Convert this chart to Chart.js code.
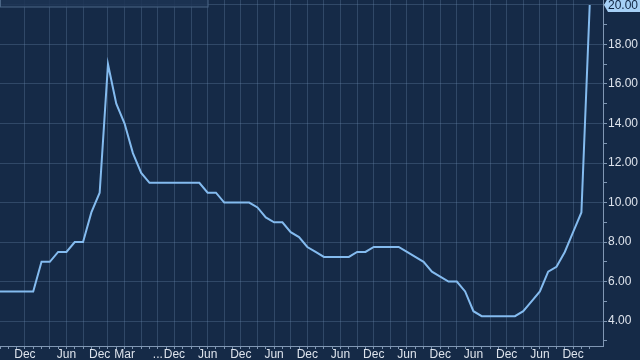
<!DOCTYPE html>
<html>
<head>
<meta charset="utf-8">
<script src="https://cdn.jsdelivr.net/npm/chart.js@4.4.1/dist/chart.umd.min.js"></script>
<style>
html, body { margin: 0; padding: 0; background: #152a47; }
#wrap { width: 640px; height: 360px; position: relative; }
</style>
</head>
<body>
<div id="wrap"><canvas id="rateChart"></canvas></div>
<script>
// one value per policy meeting, plotted evenly spaced like the terminal does
const keyRate = [5.5, 5.5, 5.5, 5.5, 5.5, 7, 7, 7.5, 7.5, 8, 8, 9.5, 10.5, 17, 15, 14, 12.5, 11.5,
    11, 11, 11, 11, 11, 11, 11, 10.5, 10.5, 10, 10, 10, 10, 9.75, 9.25, 9, 9, 8.5, 8.25, 7.75, 7.5,
    7.25, 7.25, 7.25, 7.25, 7.5, 7.5, 7.75, 7.75, 7.75, 7.75, 7.5, 7.25, 7, 6.5, 6.25, 6, 6, 5.5, 4.5,
    4.25, 4.25, 4.25, 4.25, 4.25, 4.5, 5, 5.5, 6.5, 6.75, 7.5, 8.5, 9.5, 20];

// which meeting gets a month label, and the label itself
const tickIdx  = [3, 8, 12, 15, 19, 21, 25, 29, 33, 37, 41, 45, 49, 53, 57, 61, 65, 69];
const tickText = ["Dec", "Jun", "Dec", "Mar", "...", "Dec", "Jun", "Dec", "Jun", "Dec", "Jun", "Dec", "Jun", "Dec", "Jun", "Dec", "Jun", "Dec"];
// meetings that carry a vertical grid line
const gridIdx = [3, 6, 8, 10, 13, 15, 17, 19, 21, 23, 25, 27, 29, 31, 33, 35, 37, 39, 41, 43, 45, 47, 49, 51, 53, 55, 57, 59, 61, 63, 65, 67, 69];

const yMin = 2.74, yMax = 20.25;

const gridColor = "rgba(120,150,185,0.28)";
const axisColor = "#8097b3";
const textColor = "#dde3ec";
const lineColor = "#84bbef";

Chart.defaults.font.family = "'Liberation Sans', Arial, sans-serif";
Chart.defaults.font.size = 12;

const legendStub = {
    id: "legendStub",
    beforeDatasetsDraw(chart) {
        const c = chart.ctx;
        c.save();
        c.fillStyle = "rgba(28,52,84,0.85)";
        c.strokeStyle = "#4a6585";
        c.lineWidth = 1;
        c.fillRect(0, -10, 208, 17);
        c.strokeRect(0.5, -10, 207.5, 17);
        c.restore();
    }
};

const lastValueTag = {
    id: "lastValueTag",
    afterDraw(chart) {
        const c = chart.ctx;
        const v = keyRate[keyRate.length - 1];
        const y = chart.scales.y.getPixelForValue(v);
        const x0 = chart.chartArea.right;
        c.save();
        c.fillStyle = "#a6d0f6";
        c.beginPath();
        c.moveTo(x0 + 1, y);
        c.lineTo(x0 + 5, y - 7);
        c.lineTo(chart.width, y - 7);
        c.lineTo(chart.width, y + 7);
        c.lineTo(x0 + 5, y + 7);
        c.closePath();
        c.fill();
        c.fillStyle = "#0e2340";
        c.font = "12px 'Liberation Sans', Arial, sans-serif";
        c.textBaseline = "middle";
        c.textAlign = "left";
        c.fillText(v.toFixed(2), x0 + 5, y + 1);
        c.restore();
    }
};

new Chart(document.getElementById("rateChart").getContext("2d"), {
    type: "line",
    data: {
        datasets: [{
            data: keyRate.map((v, i) => ({ x: i, y: v })),
            borderColor: lineColor,
            borderWidth: 2,
            pointRadius: 0,
            tension: 0,
            fill: false
        }]
    },
    options: {
        responsive: true,
        maintainAspectRatio: false,
        animation: false,
        layout: { padding: 0 },
        plugins: { legend: { display: false }, tooltip: { enabled: false } },
        scales: {
            x: {
                type: "linear",
                min: 0,
                max: 72.6,
                afterBuildTicks: axis => { axis.ticks = keyRate.map((v, i) => ({ value: i })); },
                afterFit: axis => {
                    axis.height = 14;
                    axis.paddingLeft = 0;
                    axis.paddingRight = 0;
                },
                border: { display: true, color: axisColor },
                grid: {
                    color: ctx => gridIdx.includes(ctx.index) ? gridColor : "transparent",
                    tickColor: axisColor,
                    tickLength: 3
                },
                ticks: {
                    autoSkip: false,
                    maxRotation: 0,
                    padding: -2,
                    color: textColor,
                    callback: (val, i) => {
                        const k = tickIdx.indexOf(i);
                        return k >= 0 ? tickText[k] : "";
                    }
                }
            },
            y: {
                position: "right",
                min: yMin,
                max: yMax,
                afterFit: axis => {
                    axis.width = 37;
                    axis.paddingTop = 0;
                    axis.paddingBottom = 0;
                },
                border: { display: true, color: axisColor },
                grid: {
                    color: ctx => ctx.tick && ctx.tick.value % 2 === 0 ? gridColor : "transparent",
                    tickColor: axisColor,
                    tickLength: 4
                },
                ticks: {
                    stepSize: 1,
                    includeBounds: false,
                    padding: 1,
                    color: textColor,
                    callback: v => (v % 2 === 0 && v !== 20) ? v.toFixed(2) : ""
                }
            }
        }
    },
    plugins: [legendStub, lastValueTag]
});
</script>
</body>
</html>
